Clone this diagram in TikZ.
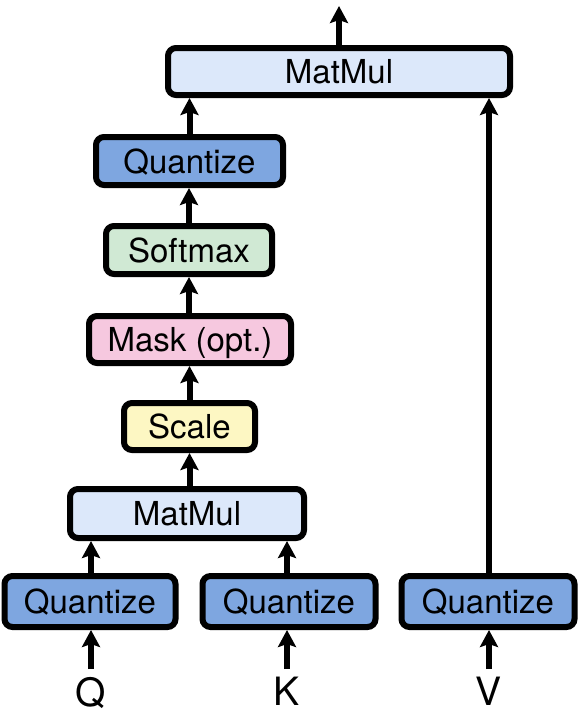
\documentclass[tikz,border=0pt]{standalone}
\usepackage{fontspec}
\setmainfont{TeX Gyre Heros}
\usetikzlibrary{arrows.meta}
\definecolor{qblue}{HTML}{7EA6E0}
\definecolor{mmblue}{HTML}{DCE8FA}
\definecolor{smgreen}{HTML}{D0E9D4}
\definecolor{mkpink}{HTML}{F6C8DF}
\definecolor{scyellow}{HTML}{FDF7C3}
\tikzset{
  blk/.style={draw=black, line width=6pt, rounded corners=8pt, inner sep=0pt,
    font=\fontsize{33}{38}\selectfont, text depth=0pt},
  lbl/.style={font=\fontsize{39}{44}\selectfont, inner sep=0pt, anchor=north},
  arr/.style={line width=6pt, -{Stealth[length=17pt,width=18pt,inset=3pt]}},
}
\begin{document}
\begin{tikzpicture}[x=1pt,y=-1pt]
\useasboundingbox (0,0) rectangle (581,728);
\node[blk, fill=mmblue, minimum width=342pt, minimum height=47pt] (mm2) at (339,71.5) {MatMul};
\node[blk, fill=qblue, minimum width=187pt, minimum height=48pt] (qA) at (189.5,161) {Quantize};
\node[blk, fill=smgreen, minimum width=166pt, minimum height=48pt] (sm) at (189,250) {Softmax};
\node[blk, fill=mkpink, minimum width=202pt, minimum height=47pt] (mk) at (190,339.5) {Mask (opt.)};
\node[blk, fill=scyellow, minimum width=131pt, minimum height=47pt] (sc) at (189.5,426.5) {Scale};
\node[blk, fill=mmblue, minimum width=234pt, minimum height=49pt] (mm1) at (187,513.5) {MatMul};
\node[blk, fill=qblue, minimum width=171pt, minimum height=51pt] (qQ) at (90,601.5) {Quantize};
\node[blk, fill=qblue, minimum width=173pt, minimum height=51pt] (qK) at (289,601.5) {Quantize};
\node[blk, fill=qblue, minimum width=173pt, minimum height=51pt] (qV) at (488,601.5) {Quantize};
\node[lbl] (Q) at (91,677) {Q};
\node[lbl] (K) at (287,677) {K};
\node[lbl] (V) at (489,677) {V};
\coordinate (out) at (339,6);
\draw[arr] (91,669) coordinate (Qs) -- (Qs |- qQ.south);
\draw[arr] (287,669) coordinate (Ks) -- (Ks |- qK.south);
\draw[arr] (489,669) coordinate (Vs) -- (Vs |- qV.south);
\draw[arr] (qQ.north -| Qs) -- (Qs |- mm1.south);
\draw[arr] (qK.north -| Ks) -- (Ks |- mm1.south);
\draw[arr] (qV.north -| Vs) -- (Vs |- mm2.south);
\draw[arr] (mm1.north -| sc.south) -- (sc.south);
\draw[arr] (sc.north) -- (sc.north |- mk.south);
\draw[arr] (mk.north -| sm.south) -- (sm.south);
\draw[arr] (sm.north) -- (sm.north |- qA.south);
\draw[arr] (qA.north) -- (qA.north |- mm2.south);
\draw[arr] (mm2.north) -- (out);
\end{tikzpicture}
\end{document}
